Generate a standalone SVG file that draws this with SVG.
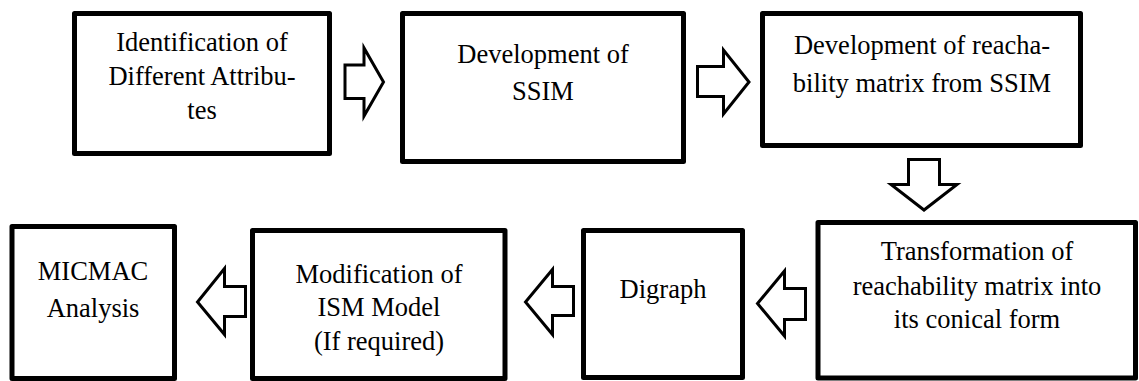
<svg xmlns="http://www.w3.org/2000/svg" width="1139" height="381" viewBox="0 0 1139 381">
<style>
.box{fill:#fff;stroke:#000;stroke-width:5;stroke-linejoin:round}
.arr{fill:#fff;stroke:#000;stroke-width:3;stroke-linejoin:miter}
.t{font-size:26.5px;fill:#000;text-anchor:middle}
</style>
<rect width="1139" height="381" fill="#fff"/>
<g id="connectors">
<polygon class="arr" points="345,65 364,65 364,48 383.5,82 364,116 364,98.5 345,98.5"/>
<polygon class="arr" points="697.5,66.5 723.5,66.5 723.5,50 749,82 723.5,114 723.5,96.5 697.5,96.5"/>
<polygon class="arr" points="908.5,159.5 939.5,159.5 939.5,184.5 957,184.5 924,210 891,184.5 908.5,184.5"/>
<polygon class="arr" points="805.5,288.5 784.5,288.5 784.5,271 757.5,303.5 784.5,336 784.5,319.5 805.5,319.5"/>
<polygon class="arr" points="573.5,286.5 552.5,286.5 552.5,269.5 525.5,302 552.5,334.5 552.5,315.5 573.5,315.5"/>
<polygon class="arr" points="245.5,286.5 224.5,286.5 224.5,268.5 197.5,302 224.5,334.5 224.5,316.5 245.5,316.5"/>
</g>
<g font-family="Liberation Serif, Times New Roman, DejaVu Serif, serif">
<g id="node-identification">
<rect class="box" x="74.5" y="13.5" width="255" height="140"/>
<text class="t" x="202" y="50.5">Identification of</text>
<text class="t" x="202" y="85">Different Attribu-</text>
<text class="t" x="202" y="118.5">tes</text>
</g>
<g id="node-ssim">
<rect class="box" x="402.5" y="13.5" width="281" height="148"/>
<text class="t" x="543" y="63">Development of</text>
<text class="t" x="543" y="100">SSIM</text>
</g>
<g id="node-reachability">
<rect class="box" x="762.5" y="13.5" width="318" height="132"/>
<text class="t" x="922" y="54">Development of reacha-</text>
<text class="t" x="922" y="92">bility matrix from SSIM</text>
</g>
<g id="node-transformation">
<rect class="box" x="818" y="222.5" width="317.5" height="155.5"/>
<text class="t" x="977" y="260">Transformation of</text>
<text class="t" x="977" y="295">reachability matrix into</text>
<text class="t" x="977" y="328">its conical form</text>
</g>
<g id="node-digraph">
<rect class="box" x="583.5" y="230.5" width="159" height="147"/>
<text class="t" x="663" y="298">Digraph</text>
</g>
<g id="node-modification">
<rect class="box" x="252.5" y="230.5" width="252.5" height="148"/>
<text class="t" x="379" y="283">Modification of</text>
<text class="t" x="379" y="316">ISM Model</text>
<text class="t" x="379" y="350">(If required)</text>
</g>
<g id="node-micmac">
<rect class="box" x="12" y="226.5" width="162.5" height="152"/>
<text class="t" x="93" y="280">MICMAC</text>
<text class="t" x="93" y="317">Analysis</text>
</g>
</g>
</svg>
